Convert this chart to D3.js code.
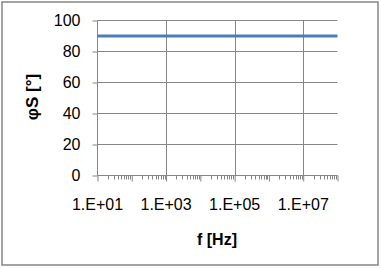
<!DOCTYPE html>
<html><head><meta charset="utf-8">
<script src="https://cdn.jsdelivr.net/npm/d3@7"></script>
<style>body{margin:0;background:#fff}svg{display:block}text{font-family:"Liberation Sans",Arial,sans-serif;fill:#000}</style>
</head><body><svg id="c" width="381" height="268"></svg>
<script>
const freqs = [1e1, 1e2, 1e3, 1e4, 1e5, 1e6, 1e7, 1e8];
const phase = [90, 90, 90, 90, 90, 90, 90, 90];
const xTicks = [1e1, 1e3, 1e5, 1e7];
const xTickLabels = ["1.E+01", "1.E+03", "1.E+05", "1.E+07"];
const yTicks = [0, 20, 40, 60, 80, 100];

const svg = d3.select("#c");
const L = 97.5, R = 337.5, T = 20.5, B = 175.5;
const x = d3.scaleLog().domain([1e1, 1e8]).range([L, R]);
const y = d3.scaleLinear().domain([0, 100]).range([B, T]);
const grey = "#868686";

svg.append("rect").attr("x", 2).attr("y", 2).attr("width", 376).attr("height", 263)
  .attr("fill", "#fff").attr("stroke", grey).attr("stroke-width", 1.5);

svg.append("g").selectAll("line").data(yTicks.filter(d => d > 0)).join("line")
  .attr("x1", L).attr("x2", R).attr("y1", d => y(d)).attr("y2", d => y(d))
  .attr("stroke", grey).attr("stroke-width", 1);
svg.append("g").selectAll("line").data(xTicks.slice(1)).join("line")
  .attr("x1", d => Math.round(x(d)) + 0.5).attr("x2", d => Math.round(x(d)) + 0.5)
  .attr("y1", T).attr("y2", B).attr("stroke", grey);

const ya = svg.append("g").attr("transform", `translate(${L},0)`)
  .call(d3.axisLeft(y).tickValues(yTicks).tickSize(5).tickPadding(12));
ya.select(".domain").attr("stroke", grey).attr("d", `M0,${T}V${B}`);
ya.selectAll(".tick line").attr("stroke", grey);
ya.selectAll("text").style("font-size", "16px").attr("fill", "#000");

const minor = [];
for (let e = 1; e < 8; e++) for (let m = 2; m <= 9; m++) minor.push(m * Math.pow(10, e));
svg.append("g").selectAll("line").data(minor).join("line")
  .attr("x1", d => Math.round(x(d)) + 0.5).attr("x2", d => Math.round(x(d)) + 0.5)
  .attr("y1", B).attr("y2", B + 4).attr("stroke", grey);
const xa = svg.append("g").attr("transform", `translate(0,${B})`)
  .call(d3.axisBottom(x).tickValues(freqs).tickFormat(() => "").tickSize(6));
xa.select(".domain").attr("stroke", grey).attr("d", `M${L},0H${R}`);
xa.selectAll(".tick line").attr("stroke", grey);
svg.append("g").selectAll("text").data(xTicks).join("text")
  .attr("x", d => x(d)).attr("y", 210).attr("text-anchor", "middle")
  .style("font-size", "16px").text((d, i) => xTickLabels[i]);

svg.append("path").datum(freqs.map((f, i) => [f, phase[i]]))
  .attr("fill", "none").attr("stroke", "#4A7EBB").attr("stroke-width", 3)
  .attr("d", d3.line().x(d => x(d[0])).y(d => y(d[1])));

svg.append("text").attr("x", 217).attr("y", 245).attr("text-anchor", "middle")
  .style("font-size", "16px").style("font-weight", "bold").text("f [Hz]");
svg.append("text").attr("transform", "translate(38,97) rotate(-90)").attr("text-anchor", "middle")
  .style("font-size", "17px").style("font-weight", "bold").text("φS [°]");
</script></body></html>
